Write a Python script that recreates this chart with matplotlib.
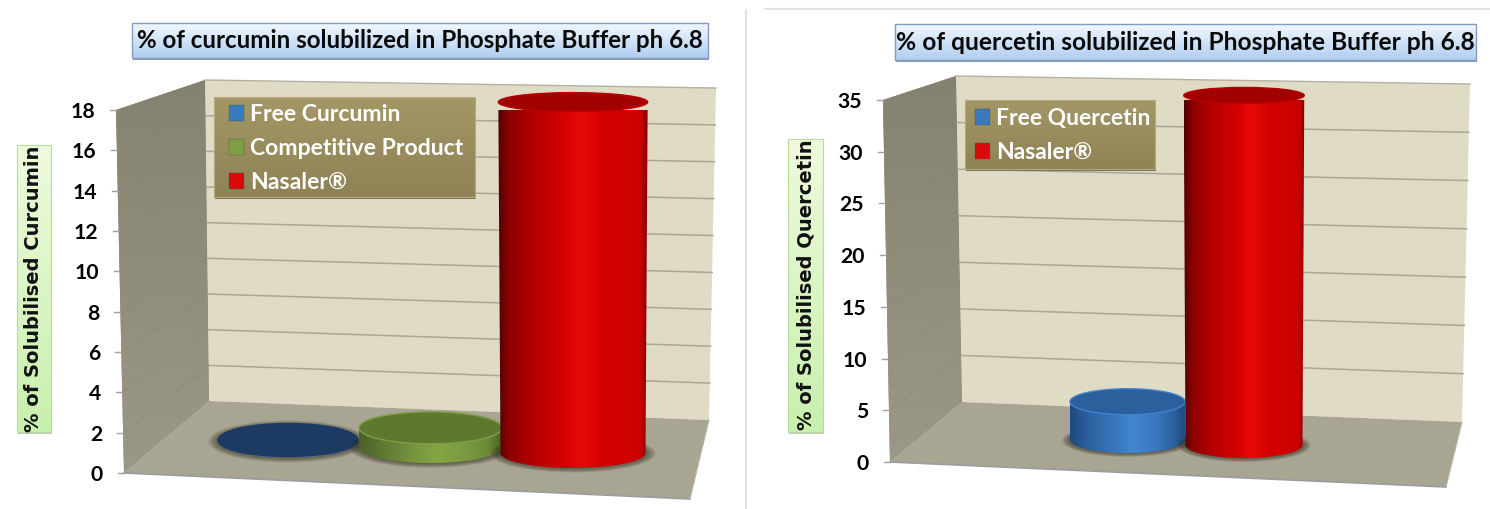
import matplotlib
matplotlib.use("Agg")
import matplotlib.pyplot as plt
import numpy as np
from matplotlib.colors import LinearSegmentedColormap as LSC
from matplotlib.patches import Polygon, Ellipse, Rectangle, Patch, PathPatch
from matplotlib.path import Path
from matplotlib.transforms import ScaledTranslation

# ---- data ----
cur_title = "% of curcumin solubilized in Phosphate Buffer ph 6.8"
cur_ylabel = "% of Solubilised Curcumin"
cur_names = ["Free Curcumin", "Competitive Product", "Nasaler®"]
cur_values = [0.05, 0.95, 17.4]
cur_ticks = [0, 2, 4, 6, 8, 10, 12, 14, 16, 18]

que_title = "% of quercetin solubilized in Phosphate Buffer ph 6.8"
que_ylabel = "% of Solubilised Quercetin"
que_names = ["Free Quercetin", "Nasaler®"]
que_values = [3.7, 33.8]
que_ticks = [0, 5, 10, 15, 20, 25, 30, 35]

W, H = 1490, 509
FONT = "Lato"
fig = plt.figure(figsize=(W / 100, H / 100), dpi=100, facecolor="white")
bg = fig.add_axes([0, 0, 1, 1], zorder=0)
bg.set_xlim(0, W); bg.set_ylim(H, 0); bg.axis("off")

RED = [(0, "#520000"), (0.07, "#8c0000"), (0.25, "#b80000"), (0.45, "#d80000"), (0.55, "#e80a0a"),
       (0.7, "#d40000"), (0.95, "#cc0000"), (1, "#8a0000")]
GREEN = [(0, "#4c6128"), (0.17, "#5f7a32"), (0.4, "#78983f"), (0.55, "#84a546"), (0.75, "#7a9a40"),
         (0.9, "#6c8a38"), (1, "#4c6128")]
BLUE = [(0, "#1f4a80"), (0.17, "#2c62a0"), (0.4, "#3a78c0"), (0.55, "#4186d2"), (0.75, "#3a78c0"),
        (0.9, "#2c62a0"), (1, "#1f4a80")]
STYLES = {"red": (RED, "#a20000", "#b80000"), "green": (GREEN, "#5e7830", "#7f9f44"),
          "blue": (BLUE, "#2c609c", "#3f83cf"), "navy": (BLUE, "#1c3a62", "#1c3a62")}


def vgrad(x0, y0, x1, y1, top, bot, z=1):
    cm = LSC.from_list("g", [top, bot])
    bg.imshow(np.linspace(0, 1, 64)[:, None], extent=[x0, x1, y1, y0], cmap=cm,
              aspect="auto", zorder=z, interpolation="bilinear")


def restore():
    bg.set_xlim(0, W); bg.set_ylim(H, 0)


def draw_panel(title, tbox, fs_title, ylabel, lbox, lab_xy, names, values, ticks, styles,
               wall, centers, dx, widths, bases, r_top, r_bot, top_scale, leg, fs_leg, leg_off):
    # wall geometry: front-left top/bottom, back-left top/bottom, back-right top/bottom, front-right
    flt, flb, blt, blb, brt, brb, frb = wall
    vmax = ticks[-1]
    # left wall, back wall, floor
    left = Polygon([flt, blt, blb, flb], closed=True, fc="#8c8877", ec="none", zorder=1)
    bg.add_patch(left)
    img = bg.imshow(np.linspace(0, 1, 64)[:, None], extent=[flt[0], blb[0] + 2, flb[1], blt[1]],
                    cmap=LSC.from_list("w", ["#868270", "#9b9887"]), aspect="auto", zorder=1.1)
    img.set_clip_path(left)
    bg.add_patch(Polygon([blt, brt, brb, blb], closed=True, fc="#e0dbc4", ec="none", zorder=1))
    bg.plot([blt[0], brt[0]], [blt[1], brt[1]], color="#b3b1a2", lw=1, zorder=1.3)
    bg.add_patch(Polygon([blb, brb, frb, flb], closed=True, fc="#a8a592", ec="none", zorder=1.2))
    bg.plot([flb[0], frb[0]], [flb[1], frb[1]], color="#9a9ca0", lw=1.2, zorder=1.3)
    bg.plot([brb[0], frb[0]], [brb[1], frb[1]], color="#b9b7a6", lw=0.8, zorder=1.3)
    for v in ticks:
        f = v / vmax
        lx0 = blb[0] + (blt[0] - blb[0]) * f
        ly0 = blb[1] + (blt[1] - blb[1]) * f
        rx0 = brb[0] + (brt[0] - brb[0]) * f
        ry0 = brb[1] + (brt[1] - brb[1]) * f
        fx0 = flb[0] + (flt[0] - flb[0]) * f
        fy0 = flb[1] + (flt[1] - flb[1]) * f
        if 0 < v < vmax:
            bg.plot([lx0, rx0], [ly0, ry0], color="#a9a79a", lw=1.1, zorder=1.3)
            bg.plot([fx0, lx0], [fy0, ly0], color="#888472", lw=0.5, alpha=0.6, zorder=1.3)
        bg.plot([fx0 - 6, fx0], [fy0, fy0], color="#a0a0a0", lw=1, zorder=1.3)

    # chart axes with the value scale of the front wall edge
    ax_x0, ax_x1 = (flt[0] + flb[0]) / 2, brt[0]
    bottom, top = flb[1], flt[1]
    ax = fig.add_axes([ax_x0 / W, 1 - bottom / H, (ax_x1 - ax_x0) / W, (bottom - top) / H], zorder=2)
    ax.patch.set_alpha(0)
    for s in ax.spines.values():
        s.set_visible(False)
    xlim = ((ax_x0 - centers) / dx, (ax_x1 - centers) / dx)
    ppu = (bottom - top) / vmax   # pixels per value unit
    ax.set_ylim(0, vmax)
    ax.set_yticks(ticks)
    ax.set_yticklabels([str(t) for t in ticks], family=FONT, weight="bold", fontsize=15.2, color="black")
    ax.set_xticks([])
    ax.tick_params(axis="y", length=0, pad=15)
    for t, v in zip(ax.yaxis.get_major_ticks(), ticks):
        shift = (0.5 - v / vmax) * (flb[0] - flt[0])
        t.label1.set_transform(t.label1.get_transform() +
                               ScaledTranslation(shift / 100, 0, fig.dpi_scale_trans))

    pts = np.linspace(0, np.pi, 60)
    for i, (val, st) in enumerate(zip(values, styles)):
        ramp, top_c, rim_c = STYLES[st]
        base = bases[i] / ppu
        rt, rb = r_top[i] / ppu, r_bot[i] / ppu
        wb = widths[i] / 2 / dx
        wt = wb * top_scale[i]
        z = 3 + i
        ytop = base + val
        # soft shadow on the floor
        for k in range(7):
            g = 1 + (7 - k) * 0.02
            ax.add_patch(Ellipse((i, base - 0.4 / ppu), 2 * wb * g, 2 * rb * (1 + (7 - k) * 0.04),
                                 fc="#2e2c22", ec="none", alpha=0.1, zorder=z - 0.5))
        # side wall with a horizontal shading
        bx = i + wb * np.cos(pts); by = base - rb * np.sin(pts)
        verts = np.r_[np.c_[bx, by], [[i - wt, ytop], [i + wt, ytop], [bx[0], by[0]]]]
        side = PathPatch(Path(verts), fc="none", ec="none", zorder=z, clip_on=False)
        ax.add_patch(side)
        im = ax.imshow(np.linspace(0, 1, 128)[None, :],
                       extent=[i - max(wt, wb), i + max(wt, wb), base - rb, ytop],
                       cmap=LSC.from_list("c", ramp), aspect="auto", zorder=z,
                       interpolation="bilinear")
        im.set_clip_path(side)
        # top face
        ax.add_patch(Ellipse((i, ytop), 2 * wt, 2 * rt, fc=top_c, ec=rim_c, lw=1.0, zorder=z + 0.2,
                             clip_on=False))
    ax.set_xlim(*xlim)
    ax.set_ylim(0, vmax)
    ax.set_ylabel(ylabel, family="DejaVu Sans", weight="bold", fontsize=14.0, color="#111111", va="center")
    ax.yaxis.set_label_coords((lbox[0] + lbox[2]) / 2 / W, 1 - lab_xy / H, transform=fig.transFigure)

    # y-label box
    x0, y0, x1, y1 = lbox
    bg.add_patch(Rectangle((x0 + 1, y0 + 2), x1 - x0, y1 - y0, fc="#c4c4c4", ec="none", zorder=3))
    vgrad(x0, y0, x1, y1, "#eefadc", "#c8f0ae", z=3.1)
    bg.add_patch(Rectangle((x0, y0), x1 - x0, y1 - y0, fc="none", ec="#b9dc9e", lw=0.8, zorder=3.2))

    # title box
    x0, y0, x1, y1 = tbox
    bg.add_patch(Rectangle((x0 + 1, y0 + 2), x1 - x0, y1 - y0, fc="#8f99ad", ec="none", zorder=3))
    vgrad(x0, y0, x1, y1, "#f2f8ff", "#b0cef0", z=3.1)
    bg.add_patch(Rectangle((x0, y0), x1 - x0, y1 - y0, fc="none", ec="#7f9cc4", lw=1, zorder=3.2))
    fig.text((x0 + x1) / 2 / W, 1 - ((y0 + y1) / 2 + 0.5) / H, title, family=FONT, weight="bold",
             fontsize=fs_title, color="#0a0a0a", ha="center", va="center", zorder=5)

    # legend
    x0, y0, x1, y1 = leg
    bg.add_patch(Rectangle((x0 + 1, y0 + 2), x1 - x0, y1 - y0, fc="#77735f", ec="none", zorder=3))
    vgrad(x0, y0, x1, y1, "#a39766", "#8f8356", z=3.1)
    bg.add_patch(Rectangle((x0, y0), x1 - x0, y1 - y0, fc="none", ec="#b5aa7c", lw=0.8, zorder=3.2))
    handles = [Patch(fc={"red": "#d80a0a", "green": "#7f9f44", "blue": "#3a78c0", "navy": "#3a78c0"}[s],
                     ec="#555a44", lw=0.3, label=n) for n, s in zip(names, styles)]
    lg = ax.legend(handles=handles, loc="upper left",
                   bbox_to_anchor=((x0 + leg_off[0]) / W, 1 - (y0 + leg_off[1]) / H),
                   bbox_transform=fig.transFigure, frameon=False,
                   prop={"family": FONT, "weight": "bold", "size": fs_leg},
                   labelcolor="white", handlelength=0.65, handleheight=0.7, handletextpad=0.28,
                   labelspacing=0.56, borderpad=0.65, borderaxespad=0)
    lg.set_zorder(10)
    restore()
    return ax


draw_panel(cur_title, (132, 23, 708, 58), 17.4, cur_ylabel, (17, 145, 51, 432), 289,
           cur_names, cur_values, cur_ticks, ["navy", "green", "red"],
           ((116, 110), (124, 473), (205, 80), (209, 401), (716, 88), (709, 420), (690, 499)),
           288, 142.5, [140, 143, 145], [32, 26, 20], [16.5, 16, 9.5], [16.5, 16, 15],
           [1, 1, 1.03], (214, 97, 475, 197), 16.6, (0, -8))

draw_panel(que_title, (895, 24, 1476, 60), 17.65, que_ylabel, (788, 139, 823, 432), 285,
           que_names, que_values, que_ticks, ["blue", "red"],
           ((883, 100), (890, 462), (956, 76), (962, 402), (1470, 84), (1462, 422), (1446, 487)),
           1127.5, 116.5, [115, 117], [22, 17], [13, 8], [13, 13], [1, 1.03], (965, 100, 1155, 169), 16.5, (-5, -7))

# separators between the two pictures
bg.plot([745.5, 745.5], [10, H], color="#e2e2e2", lw=1.5, zorder=1)
bg.plot([765, W], [9, 9], color="#e2e2e2", lw=1.5, zorder=1)
restore()

fig.savefig("out.png", dpi=100)
